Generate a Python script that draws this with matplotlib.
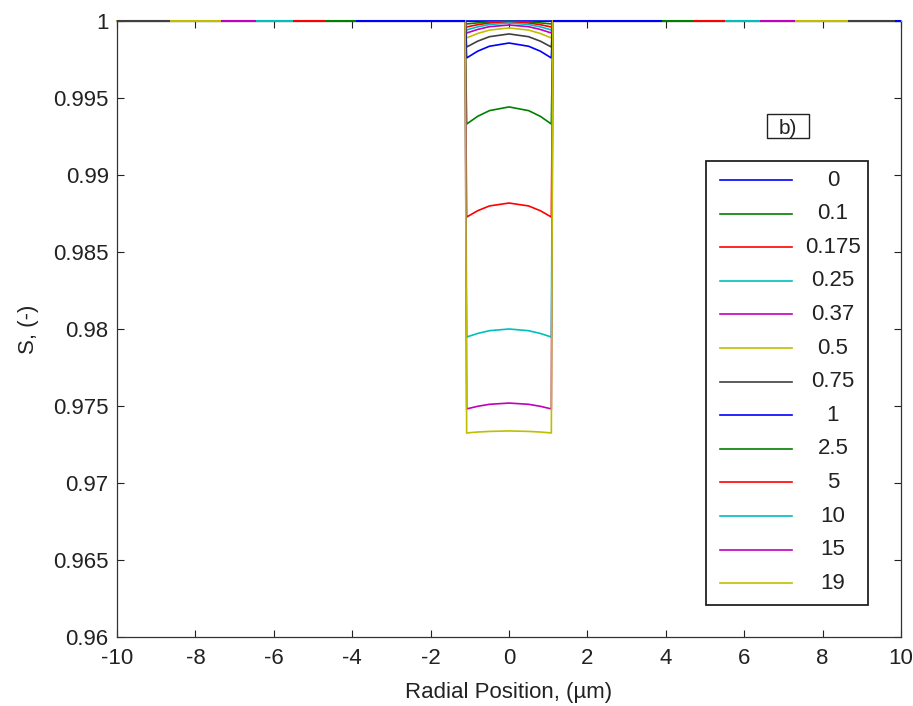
import matplotlib
matplotlib.use("Agg")
import matplotlib.pyplot as plt
from matplotlib.lines import Line2D
from matplotlib.patches import Rectangle

plt.rcParams['font.family'] = ['Liberation Sans', 'DejaVu Sans']

# Legend labels (time values) for each saturation profile
labels = ['0', '0.1', '0.175', '0.25', '0.37', '0.5', '0.75',
          '1', '2.5', '5', '10', '15', '19']

# Radial sample positions (um) across the core region
x_core = [-1.08, -0.8, -0.5, 0.0, 0.5, 0.8, 1.08]
# Edge of the core where the profile returns to S = 1
x_rim = 1.12
x_lim = 10.0

# Saturation at the core sample positions for each profile
s_core = [
    [1.0, 1.0, 1.0, 1.0, 1.0, 1.0, 1.0],
    [0.99981, 0.99988, 0.99994, 0.99997, 0.99994, 0.99988, 0.99981],
    [0.99961, 0.99976, 0.99987, 0.99994, 0.99987, 0.99976, 0.99961],
    [0.99942, 0.99962, 0.99977, 0.99987, 0.99977, 0.99962, 0.99942],
    [0.99922, 0.99945, 0.99963, 0.99974, 0.99963, 0.99945, 0.99922],
    [0.99890, 0.99919, 0.99941, 0.99955, 0.99941, 0.99919, 0.99890],
    [0.99831, 0.99869, 0.99898, 0.99916, 0.99898, 0.99869, 0.99831],
    [0.99760, 0.99804, 0.99836, 0.99857, 0.99836, 0.99804, 0.99760],
    [0.99331, 0.99381, 0.99418, 0.99442, 0.99418, 0.99381, 0.99331],
    [0.98727, 0.98768, 0.98799, 0.98818, 0.98799, 0.98768, 0.98727],
    [0.97948, 0.97971, 0.97989, 0.98000, 0.97989, 0.97971, 0.97948],
    [0.97481, 0.97498, 0.97511, 0.97519, 0.97511, 0.97498, 0.97481],
    [0.97325, 0.97331, 0.97335, 0.97338, 0.97335, 0.97331, 0.97325],
]

# Outer S = 1 plateau: which profile shows on top in each radial band
rim_edges = [-10.0, -8.65, -7.35, -6.45, -5.5, -4.7, -3.9, -1.12,
             1.12, 3.9, 4.7, 5.5, 6.4, 7.3, 8.65, 9.85, 10.0]
rim_owner = [6, 5, 4, 3, 2, 1, 0, None, 0, 1, 2, 3, 4, 5, 6, 0]

# MATLAB-style colour cycle
cycle = [(0, 0, 1), (0, 0.5, 0), (1, 0, 0), (0, 0.75, 0.75),
         (0.75, 0, 0.75), (0.75, 0.75, 0), (0.25, 0.25, 0.25)]
colors = [cycle[i % len(cycle)] for i in range(len(labels))]

x_ticks = list(range(-10, 11, 2))
x_ticklabels = [str(v) for v in x_ticks]
y_ticks = [0.96, 0.965, 0.97, 0.975, 0.98, 0.985, 0.99, 0.995, 1.0]
y_ticklabels = ['0.96', '0.965', '0.97', '0.975', '0.98', '0.985',
                '0.99', '0.995', '1']

FS = 16
fig = plt.figure(figsize=(9.13, 7.06), dpi=100)
ax = fig.add_axes([117 / 913, 1 - 637 / 706, 784 / 913, 616 / 706])

lw = 1.2
for s, c in zip(s_core, colors):
    xs = [-x_lim, -x_rim] + x_core + [x_rim, x_lim]
    ys = [1.0, 1.0] + s + [1.0, 1.0]
    ax.plot(xs, ys, color=c, lw=lw, clip_on=False, solid_joinstyle='miter',
            zorder=3)

for i, owner in enumerate(rim_owner):
    if owner is None:
        continue
    ax.plot([rim_edges[i], rim_edges[i + 1]], [1.0, 1.0],
            color=colors[owner], lw=1.5, clip_on=False, zorder=4,
            solid_capstyle='butt')

ax.set_xlim(-10, 10)
ax.set_ylim(0.96, 1.0)
ax.set_xticks(x_ticks)
ax.set_xticklabels(x_ticklabels)
ax.set_yticks(y_ticks)
ax.set_yticklabels(y_ticklabels)
ax.tick_params(direction='in', length=5, width=0.8, top=True, right=True,
               labelsize=FS, colors='#222222')
ax.tick_params(axis='y', pad=6)
ax.tick_params(axis='x', pad=8)
for sp in ax.spines.values():
    sp.set_color('#333333')
    sp.set_linewidth(0.9)

ax.set_xlabel('Radial Position, (\u00b5m)', fontsize=FS, color='#222222',
              labelpad=9)
ax.set_ylabel('S, (-)', fontsize=FS, color='#222222', labelpad=10)

# Panel tag
def fx(px):
    return (px - 117) / 784

def fy(py):
    return (637 - py) / 616

ax.add_patch(Rectangle((fx(767), fy(138)), fx(809) - fx(767),
                       fy(114) - fy(138), transform=ax.transAxes,
                       fill=True, facecolor='white', edgecolor='#222222',
                       lw=1.0, clip_on=False, zorder=5))
ax.text(fx(788), fy(127), 'b)', transform=ax.transAxes, ha='center',
        va='center_baseline', fontsize=FS - 1, color='#222222', zorder=6)

# Legend drawn as a framed list of line samples with centred labels
ax.add_patch(Rectangle((fx(706), fy(605)), fx(868) - fx(706),
                       fy(161) - fy(605), transform=ax.transAxes,
                       facecolor='white', edgecolor='#222222', lw=1.3,
                       clip_on=False, zorder=5))
row0, step = 180, 33.6
for i, (lab, c) in enumerate(zip(labels, colors)):
    py = row0 + i * step
    ax.add_line(Line2D([fx(720), fx(792)], [fy(py), fy(py)],
                       transform=ax.transAxes, color=c, lw=lw, zorder=6))
    ax.text(fx(833), fy(py), lab, transform=ax.transAxes, ha='center',
            va='center', fontsize=FS, color='#222222', zorder=6)

fig.savefig('out.png', dpi=100)
